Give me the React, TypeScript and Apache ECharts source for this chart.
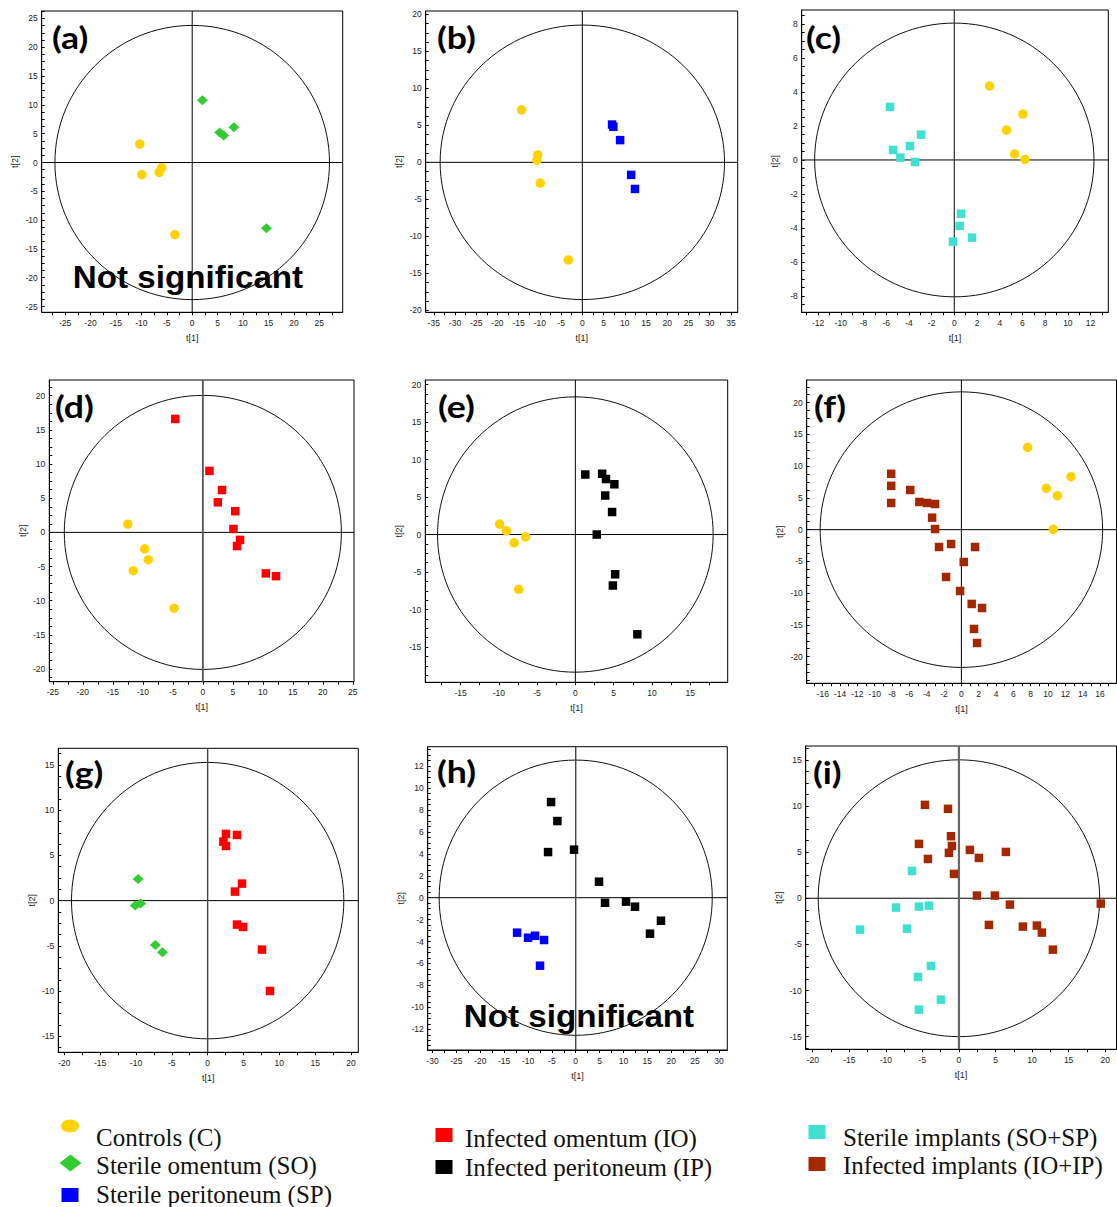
import React, { useEffect, useRef } from "react";
import * as echarts from "echarts";

// ---------- data (t[1], t[2]) ----------
const aControls = [[-10.3, 3.2], [-9.9, -2.1], [-6.5, -1.7], [-6.0, -0.9], [-3.4, -12.5]];
const aSterileOmentum = [[2.0, 10.8], [5.4, 5.2], [6.2, 4.7], [8.2, 6.1], [14.6, -11.4]];

const bControls = [[-14.3, 7.1], [-10.5, 1.0], [-10.7, 0.3], [-9.9, -2.8], [-3.3, -13.2]];
const bSterilePeritoneum = [[7.0, 5.1], [7.3, 4.8], [8.9, 3.0], [11.5, -1.7], [12.4, -3.6]];

const cSterileImplants = [[-5.66, 3.12], [-2.93, 1.49], [-3.9, 0.82], [-5.4, 0.59], [-4.75, 0.14], [-3.46, -0.12], [0.59, -3.16], [0.47, -3.88], [1.56, -4.57], [-0.12, -4.8]];
const cControls = [[3.11, 4.35], [6.04, 2.7], [4.6, 1.76], [5.31, 0.35], [6.22, 0.04]];

const dControls = [[-12.5, 1.2], [-9.7, -2.4], [-9.1, -4.0], [-11.6, -5.6], [-4.8, -11.1]];
const dInfectedOmentum = [[-4.6, 16.6], [1.1, 9.0], [3.2, 6.2], [2.5, 4.4], [5.4, 3.1], [5.1, 0.5], [6.2, -1.1], [5.7, -2.0], [10.5, -6.0], [12.2, -6.4]];

const eControls = [[-9.9, 1.4], [-9.0, 0.5], [-8.0, -1.1], [-6.5, -0.3], [-7.4, -7.3]];
const eInfectedPeritoneum = [[1.3, 8.0], [3.5, 8.1], [4.0, 7.4], [5.1, 6.7], [3.9, 5.2], [4.8, 3.0], [2.8, 0.0], [5.2, -5.3], [4.9, -6.8], [8.1, -13.3]];

const fControls = [[7.65, 12.97], [12.65, 8.35], [9.8, 6.51], [11.08, 5.35], [10.6, 0.05]];
const fInfectedImplants = [[-8.1, 8.8], [-8.1, 6.9], [-8.1, 4.2], [-5.9, 6.25], [-4.85, 4.36], [-3.96, 4.2], [-3.04, 4.04], [-3.38, 1.89], [-3.04, 0.1], [-2.58, -2.73], [-1.19, -2.26], [1.58, -2.73], [0.27, -5.09], [-1.77, -7.45], [-0.15, -9.66], [1.19, -11.7], [2.38, -12.34], [1.46, -15.64], [1.81, -17.85]];

const gSterileOmentum = [[-9.7, 2.4], [-10.1, -0.55], [-9.35, -0.33], [-7.3, -4.9], [-6.3, -5.7]];
const gInfectedOmentum = [[2.56, 7.37], [4.09, 7.26], [2.19, 6.52], [2.56, 6.04], [4.79, 1.88], [3.81, 1.0], [4.09, -2.65], [4.93, -2.91], [7.58, -5.42], [8.7, -9.99]];

const hInfectedPeritoneum = [[-5.16, 8.72], [-3.84, 6.99], [-5.79, 4.16], [-0.35, 4.38], [4.88, 1.46], [6.14, -0.46], [10.54, -0.36], [12.42, -0.82], [17.86, -2.1], [15.56, -3.28]];
const hSterilePeritoneum = [[-12.28, -3.19], [-9.98, -3.65], [-8.51, -3.47], [-6.63, -3.86], [-7.47, -6.2]];

const iInfectedImplants = [[-4.65, 10.12], [-1.5, 9.69], [-1.09, 6.72], [-5.47, 5.89], [-0.96, 5.67], [-1.37, 4.92], [-4.24, 4.26], [1.5, 5.24], [2.73, 4.37], [6.42, 5.02], [-0.68, 2.64], [2.46, 0.29], [4.92, 0.29], [6.97, -0.69], [19.4, -0.58], [4.1, -2.89], [8.75, -3.07], [10.66, -2.96], [11.34, -3.72], [12.85, -5.57]];
const iSterileImplants = [[-6.42, 2.96], [-8.61, -1.01], [-5.47, -0.9], [-4.1, -0.8], [-13.53, -3.4], [-7.1, -3.29], [-3.83, -7.34], [-5.6, -8.53], [-2.46, -10.99], [-5.47, -12.07]];

// Hotelling ellipse radii (t[1], t[2]) per panel
const ellipseRadii = [[27, 23.8], [33.5, 18.55], [12.3, 8.05], [23.1, 20.05], [18, 18.35], [16.3, 21.7], [19, 15.28], [28.6, 12.55], [19.25, 15]];

// axis extents per panel
const xExtents = [[-29.6, 29.6], [-36.9, 36.6], [-13.44, 13.56], [-25.6, 25.2], [-19.6, 19.9], [-17.85, 17.9], [-20.84, 21.02], [-31.0, 31.75], [-20.96, 21.55]];
const yExtents = [[-26.0, 26.3], [-20.27, 20.45], [-8.96, 8.82], [-21.85, 22.3], [-19.7, 20.6], [-24.2, 23.57], [-16.77, 16.84], [-13.89, 13.77], [-16.37, 16.5]];

// tick labels per panel
const xTickLabels = [
  [-25, -20, -15, -10, -5, 0, 5, 10, 15, 20, 25],
  [-35, -30, -25, -20, -15, -10, -5, 0, 5, 10, 15, 20, 25, 30, 35],
  [-12, -10, -8, -6, -4, -2, 0, 2, 4, 6, 8, 10, 12],
  [-25, -20, -15, -10, -5, 0, 5, 10, 15, 20, 25],
  [-15, -10, -5, 0, 5, 10, 15],
  [-16, -14, -12, -10, -8, -6, -4, -2, 0, 2, 4, 6, 8, 10, 12, 14, 16],
  [-20, -15, -10, -5, 0, 5, 10, 15, 20],
  [-30, -25, -20, -15, -10, -5, 0, 5, 10, 15, 20, 25, 30],
  [-20, -15, -10, -5, 0, 5, 10, 15, 20],
];
const yTickLabels = [
  [-25, -20, -15, -10, -5, 0, 5, 10, 15, 20, 25],
  [-20, -15, -10, -5, 0, 5, 10, 15, 20],
  [-8, -6, -4, -2, 0, 2, 4, 6, 8],
  [-20, -15, -10, -5, 0, 5, 10, 15, 20],
  [-15, -10, -5, 0, 5, 10, 15, 20],
  [-20, -15, -10, -5, 0, 5, 10, 15, 20],
  [-15, -10, -5, 0, 5, 10, 15],
  [-12, -10, -8, -6, -4, -2, 0, 2, 4, 6, 8, 10, 12],
  [-15, -10, -5, 0, 5, 10, 15],
];
const xTickSteps = [2.5, 2.5, 1, 2.5, 2.5, 1, 2.5, 2.5, 2.5];
const yTickSteps = [1.25, 1.25, 0.5, 1.25, 1.25, 1.25, 1.25, 0.5, 1.25];

// group names
const C = "Controls (C)";
const SO = "Sterile omentum (SO)";
const SP = "Sterile peritoneum (SP)";
const IO = "Infected omentum (IO)";
const IP = "Infected peritoneum (IP)";
const SI = "Sterile implants (SO+SP)";
const II = "Infected implants (IO+IP)";

const panelSeries: [string, number[][]][][] = [
  [[C, aControls], [SO, aSterileOmentum]],
  [[C, bControls], [SP, bSterilePeritoneum]],
  [[SI, cSterileImplants], [C, cControls]],
  [[C, dControls], [IO, dInfectedOmentum]],
  [[C, eControls], [IP, eInfectedPeritoneum]],
  [[C, fControls], [II, fInfectedImplants]],
  [[SO, gSterileOmentum], [IO, gInfectedOmentum]],
  [[IP, hInfectedPeritoneum], [SP, hSterilePeritoneum]],
  [[II, iInfectedImplants], [SI, iSterileImplants]],
];
const panelLetters = ["(a)", "(b)", "(c)", "(d)", "(e)", "(f)", "(g)", "(h)", "(i)"];

// ---------- layout (pixels) ----------
const frames = [
  [41.7, 11, 342.7, 312.3],
  [425.7, 11, 737.7, 312.3],
  [801.7, 10, 1108.3, 312.3],
  [49.3, 380, 354, 681.7],
  [425.3, 380, 727.7, 682.3],
  [806.7, 380, 1116.5, 683.3],
  [58.3, 748.3, 358.3, 1052.3],
  [427.7, 746.7, 727.3, 1050],
  [805.7, 746, 1116.5, 1049.3],
];
const letterPos = [[52, 37], [437, 37], [806, 37], [55, 406], [438, 406], [814, 406], [65, 772], [437, 771], [813, 772]];
const notSigPos = [[188, 277], [579, 1016]];
const vLineStyles = [["#000", 1], ["#000", 1], ["#333", 1.2], ["#555", 1.8], ["#000", 1], ["#000", 1], ["#444", 1.4], ["#444", 1.4], ["#666", 2.2]];

const styles: Record<string, { color: string; symbol: string; size: number | number[] }> = {
  [C]: { color: "#FFD200", symbol: "circle", size: 9.5 },
  [SO]: { color: "#33CC33", symbol: "diamond", size: [11, 10] },
  [SP]: { color: "#0000FF", symbol: "rect", size: 8.5 },
  [IO]: { color: "#FF0000", symbol: "rect", size: 8.5 },
  [IP]: { color: "#000000", symbol: "rect", size: 8.5 },
  [SI]: { color: "#40E0D0", symbol: "rect", size: 8.5 },
  [II]: { color: "#A32800", symbol: "rect", size: 8.5 },
};

function ticks(ext: number[], step: number) {
  const out: number[] = [];
  for (let v = Math.ceil(ext[0] / step) * step; v <= ext[1] + 1e-9; v += step) {
    out.push(Math.round(v * 1000) / 1000);
  }
  return out;
}

const axisFont = { fontFamily: "Liberation Sans, Arial, sans-serif", fontSize: 8.5, color: "#222" };

function buildOption() {
  const grid: any[] = [];
  const xAxis: any[] = [];
  const yAxis: any[] = [];
  const series: any[] = [];
  const graphic: any[] = [];

  frames.forEach((f, i) => {
    grid.push({
      left: f[0], top: f[1], width: f[2] - f[0], height: f[3] - f[1],
      show: true, borderColor: "#000", borderWidth: 1, backgroundColor: "#fff",
    });
    xAxis.push({
      type: "value", gridIndex: i, min: xExtents[i][0], max: xExtents[i][1],
      name: "t[1]", nameLocation: "middle", nameGap: 21,
      nameTextStyle: { ...axisFont, fontSize: 9 },
      axisLine: { show: true, onZero: false, lineStyle: { color: "#000", width: 1 } },
      axisTick: { show: true, inside: false, length: 3, lineStyle: { color: "#000" }, customValues: ticks(xExtents[i], xTickSteps[i]) },
      axisLabel: { ...axisFont, margin: 6, customValues: xTickLabels[i] },
      splitLine: { show: false },
    });
    yAxis.push({
      type: "value", gridIndex: i, min: yExtents[i][0], max: yExtents[i][1],
      name: "t[2]", nameLocation: "middle", nameGap: 22,
      nameTextStyle: { ...axisFont, fontSize: 9 },
      axisLine: { show: true, onZero: false, lineStyle: { color: "#000", width: 1 } },
      axisTick: { show: true, inside: true, length: 3, lineStyle: { color: "#000" }, customValues: ticks(yExtents[i], yTickSteps[i]) },
      axisLabel: { ...axisFont, margin: 4, customValues: yTickLabels[i] },
      splitLine: { show: false },
    });
    const vs = vLineStyles[i];
    series.push({
      type: "custom", xAxisIndex: i, yAxisIndex: i, silent: true, z: 1,
      data: [ellipseRadii[i]],
      renderItem: (params: any, api: any) => {
        const cs = params.coordSys;
        const c = api.coord([0, 0]);
        const e = api.coord([api.value(0), api.value(1)]);
        return {
          type: "group",
          children: [
            { type: "ellipse", shape: { cx: c[0], cy: c[1], rx: Math.abs(e[0] - c[0]), ry: Math.abs(c[1] - e[1]) }, style: { fill: "none", stroke: "#111", lineWidth: 1 } },
            { type: "line", shape: { x1: cs.x, y1: c[1], x2: cs.x + cs.width, y2: c[1] }, style: { stroke: "#000", lineWidth: 1 } },
            { type: "line", shape: { x1: c[0], y1: cs.y, x2: c[0], y2: cs.y + cs.height }, style: { stroke: vs[0], lineWidth: vs[1] } },
          ],
        };
      },
    });
    panelSeries[i].forEach(([name, data]) => {
      const s = styles[name];
      series.push({
        type: "scatter", name, xAxisIndex: i, yAxisIndex: i, z: 3,
        data, symbol: s.symbol, symbolSize: s.size,
        itemStyle: { color: s.color, opacity: 1 },
      });
    });
    graphic.push({
      type: "text", x: letterPos[i][0], y: letterPos[i][1], z: 50, scaleX: 1.15,
      style: { text: panelLetters[i], fontFamily: "Lato, Open Sans, sans-serif", fontWeight: "bold", fontSize: 31, fill: "#000", textAlign: "left", textVerticalAlign: "middle" },
    });
  });

  notSigPos.forEach((p) => {
    graphic.push({
      type: "text", x: p[0], y: p[1], z: 60, scaleX: 1.07,
      style: { text: "Not significant", fontFamily: "Liberation Sans, Arial, sans-serif", fontWeight: "bold", fontSize: 31, fill: "#000", textAlign: "center", textVerticalAlign: "middle" },
    });
  });

  // legend
  const legendFont = { fontFamily: "Liberation Serif, Times New Roman, serif", fontSize: 25, fill: "#111", textAlign: "left", textVerticalAlign: "middle" };
  const legendItems: [string, number, number, number, number][] = [
    [C, 70, 1126, 96, 1137], [SO, 70.5, 1163, 96, 1165], [SP, 70, 1195, 96, 1194],
    [IO, 444, 1135, 465, 1138], [IP, 444, 1167, 465, 1167],
    [SI, 817, 1132, 843, 1137], [II, 817, 1164, 843, 1165],
  ];
  legendItems.forEach(([name, mx, my, tx, ty]) => {
    const s = styles[name];
    if (s.symbol === "circle") {
      graphic.push({ type: "ellipse", shape: { cx: mx, cy: my, rx: 9, ry: 6.5 }, style: { fill: s.color } });
    } else if (s.symbol === "diamond") {
      graphic.push({ type: "polygon", shape: { points: [[mx - 11, my], [mx, my - 8.5], [mx + 11, my], [mx, my + 8.5]] }, style: { fill: s.color } });
    } else {
      graphic.push({ type: "rect", shape: { x: mx - 8.5, y: my - 7, width: 17, height: 14 }, style: { fill: s.color } });
    }
    graphic.push({ type: "text", x: tx, y: ty, style: { text: name, ...legendFont } });
  });

  return { animation: false, backgroundColor: "#fff", grid, xAxis, yAxis, series, graphic };
}

export default function App() {
  const ref = useRef<HTMLDivElement>(null);
  useEffect(() => {
    if (!ref.current) return;
    const chart = echarts.init(ref.current, undefined, { renderer: "svg" });
    chart.setOption(buildOption() as any);
    return () => chart.dispose();
  }, []);
  return <div ref={ref} style={{ position: "absolute", left: 0, top: 0, width: 1117, height: 1207 }} />;
}
